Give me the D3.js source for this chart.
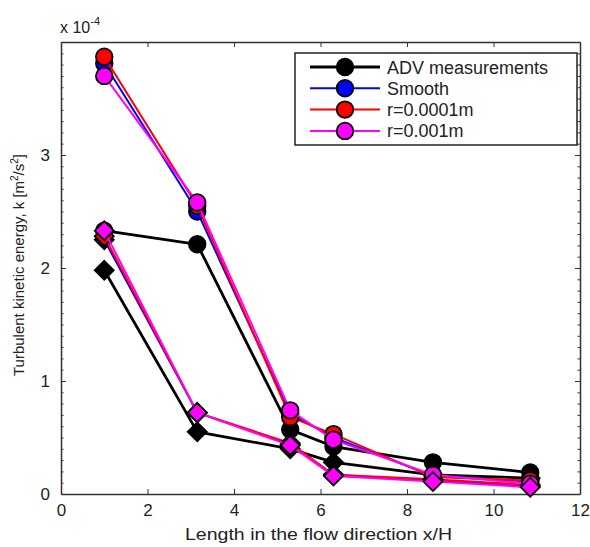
<!DOCTYPE html>
<html><head><meta charset="utf-8">
<script src="https://cdn.jsdelivr.net/npm/d3@7"></script>
<style>body{margin:0;background:#fff;} text{font-family:"Liberation Sans",Arial,sans-serif;}</style>
</head><body>
<svg id="c" width="590" height="547"></svg>
<script>
const xPos = [1, 3.15, 5.3, 6.3, 8.6, 10.85];
const advCircle     = [2.33, 2.21, 0.57, 0.42, 0.28, 0.19];
const advDiamond    = [1.98, 0.55, 0.40, 0.28, 0.17, 0.14];
const smoothCircle  = [3.81, 2.50, 0.71, 0.50, 0.16, 0.11];
const smoothDiamond = [2.25, 0.72, 0.44, 0.17, 0.12, 0.07];
const r1Circle      = [3.87, 2.55, 0.68, 0.53, 0.15, 0.12];
const r1Diamond     = [2.28, 0.72, 0.45, 0.17, 0.13, 0.08];
const r2Circle      = [3.70, 2.58, 0.74, 0.48, 0.17, 0.09];
const r2Diamond     = [2.33, 0.72, 0.43, 0.16, 0.11, 0.06];
const seriesNames = ["ADV measurements", "Smooth", "r=0.0001m", "r=0.001m"];
const seriesColors = ["#000000", "#0000ff", "#ff0000", "#ff00ff"];
const xTicks = [0, 2, 4, 6, 8, 10, 12];
const yTicks = [0, 1, 2, 3];

const svg = d3.select("#c");
const L = 61, R = 580, T = 42, B = 494;
const x = d3.scaleLinear().domain([0, 12]).range([L, R]);
const y = d3.scaleLinear().domain([0, 4]).range([B, T]);

const axCol = "#333";
const txtCol = "#222";
const yMinor = d3.range(0, 4.001, 0.1);
// left axis
svg.append("g").attr("transform", `translate(${L},0)`)
  .call(d3.axisLeft(y).tickValues(yTicks).tickFormat(d3.format("d")).tickSizeInner(-5).tickSizeOuter(0).tickPadding(11))
  .call(g => { g.select(".domain").attr("stroke", axCol).attr("stroke-width", 1.5);
    g.selectAll("text").attr("font-size", 17).attr("fill", txtCol); g.selectAll("line").attr("stroke", axCol); });
svg.append("g").attr("transform", `translate(${L},0)`)
  .call(d3.axisLeft(y).tickValues(yMinor).tickFormat("").tickSizeInner(-2.5).tickSizeOuter(0))
  .call(g => { g.select(".domain").remove(); g.selectAll("line").attr("stroke", axCol); });
// right axis
svg.append("g").attr("transform", `translate(${R},0)`)
  .call(d3.axisRight(y).tickValues(yTicks).tickFormat("").tickSizeInner(-5).tickSizeOuter(0))
  .call(g => { g.select(".domain").attr("stroke", axCol).attr("stroke-width", 1.5); g.selectAll("line").attr("stroke", axCol); });
svg.append("g").attr("transform", `translate(${R},0)`)
  .call(d3.axisRight(y).tickValues(yMinor).tickFormat("").tickSizeInner(-2.5).tickSizeOuter(0))
  .call(g => { g.select(".domain").remove(); g.selectAll("line").attr("stroke", axCol); });
// bottom axis
svg.append("g").attr("transform", `translate(0,${B})`)
  .call(d3.axisBottom(x).tickValues(xTicks).tickFormat(d3.format("d")).tickSizeInner(-5).tickSizeOuter(0).tickPadding(10))
  .call(g => { g.select(".domain").attr("stroke", axCol).attr("stroke-width", 1.5);
    g.selectAll("text").attr("font-size", 17).attr("fill", txtCol); g.selectAll("line").attr("stroke", axCol); });
// top axis
svg.append("g").attr("transform", `translate(0,${T})`)
  .call(d3.axisTop(x).tickValues(xTicks).tickFormat("").tickSizeInner(-5).tickSizeOuter(0))
  .call(g => { g.select(".domain").attr("stroke", axCol).attr("stroke-width", 1.5); g.selectAll("line").attr("stroke", axCol); });

// exponent label
const ex = svg.append("text").attr("x", 60).attr("y", 33).attr("font-size", 16).attr("fill", txtCol);
ex.append("tspan").text("x 10");
ex.append("tspan").attr("dy", -8).attr("font-size", 11).text("-4");

// axis labels
svg.append("text").attr("x", (L + R) / 2 - 2).attr("y", 540).attr("text-anchor", "middle")
  .attr("font-size", 16).attr("textLength", 267).attr("lengthAdjust", "spacingAndGlyphs")
  .attr("fill", txtCol).text("Length in the flow direction x/H");
const yl = svg.append("text").attr("transform", `translate(24,${(T + B) / 2 - 3}) rotate(-90)`)
  .attr("text-anchor", "middle").attr("font-size", 15).attr("fill", txtCol);
yl.append("tspan").text("Turbulent kinetic energy, k [m");
yl.append("tspan").attr("dy", -6).attr("font-size", 10).text("2");
yl.append("tspan").attr("dy", 6).text("/s");
yl.append("tspan").attr("dy", -6).attr("font-size", 10).text("2");
yl.append("tspan").attr("dy", 6).text("]");

const line = d3.line().x((d, i) => x(xPos[i])).y(d => y(d));
const diamond = d3.symbol().type(d3.symbolDiamond2).size(230);

function drawSeries(vals, color, shape, lw) {
  const g = svg.append("g");
  g.append("path").datum(vals).attr("d", line).attr("fill", "none")
    .attr("stroke", color).attr("stroke-width", lw).attr("stroke-linejoin", "round");
  if (shape === "circle") {
    g.selectAll("circle").data(vals).join("circle")
      .attr("cx", (d, i) => x(xPos[i])).attr("cy", d => y(d)).attr("r", 8.3)
      .attr("fill", color).attr("stroke", "#000").attr("stroke-width", 1.8);
  } else {
    g.selectAll("path.m").data(vals).join("path").attr("class", "m")
      .attr("transform", (d, i) => `translate(${x(xPos[i])},${y(d)})`)
      .attr("d", diamond).attr("fill", color).attr("stroke", "#000").attr("stroke-width", 1.8);
  }
}
drawSeries(advCircle, seriesColors[0], "circle", 2.8);
drawSeries(advDiamond, seriesColors[0], "diamond", 2.8);
drawSeries(smoothCircle, seriesColors[1], "circle", 2);
drawSeries(smoothDiamond, seriesColors[1], "diamond", 2);
drawSeries(r1Circle, seriesColors[2], "circle", 2);
drawSeries(r1Diamond, seriesColors[2], "diamond", 2);
drawSeries(r2Circle, seriesColors[3], "circle", 2);
drawSeries(r2Diamond, seriesColors[3], "diamond", 2);

// legend
const lg = svg.append("g");
lg.append("rect").attr("x", 295).attr("y", 53).attr("width", 282).attr("height", 92)
  .attr("fill", "#fff").attr("stroke", "#222").attr("stroke-width", 1.5);
seriesNames.forEach((n, i) => {
  const yy = 67 + i * 21.3;
  lg.append("line").attr("x1", 310).attr("x2", 380).attr("y1", yy).attr("y2", yy)
    .attr("stroke", seriesColors[i]).attr("stroke-width", i === 0 ? 2.8 : 2);
  lg.append("circle").attr("cx", 345).attr("cy", yy).attr("r", 8.3)
    .attr("fill", seriesColors[i]).attr("stroke", "#000").attr("stroke-width", 1.8);
  lg.append("text").attr("x", 387).attr("y", yy + 6.5).attr("font-size", 18).attr("fill", txtCol).text(n);
});
</script>
</body></html>
